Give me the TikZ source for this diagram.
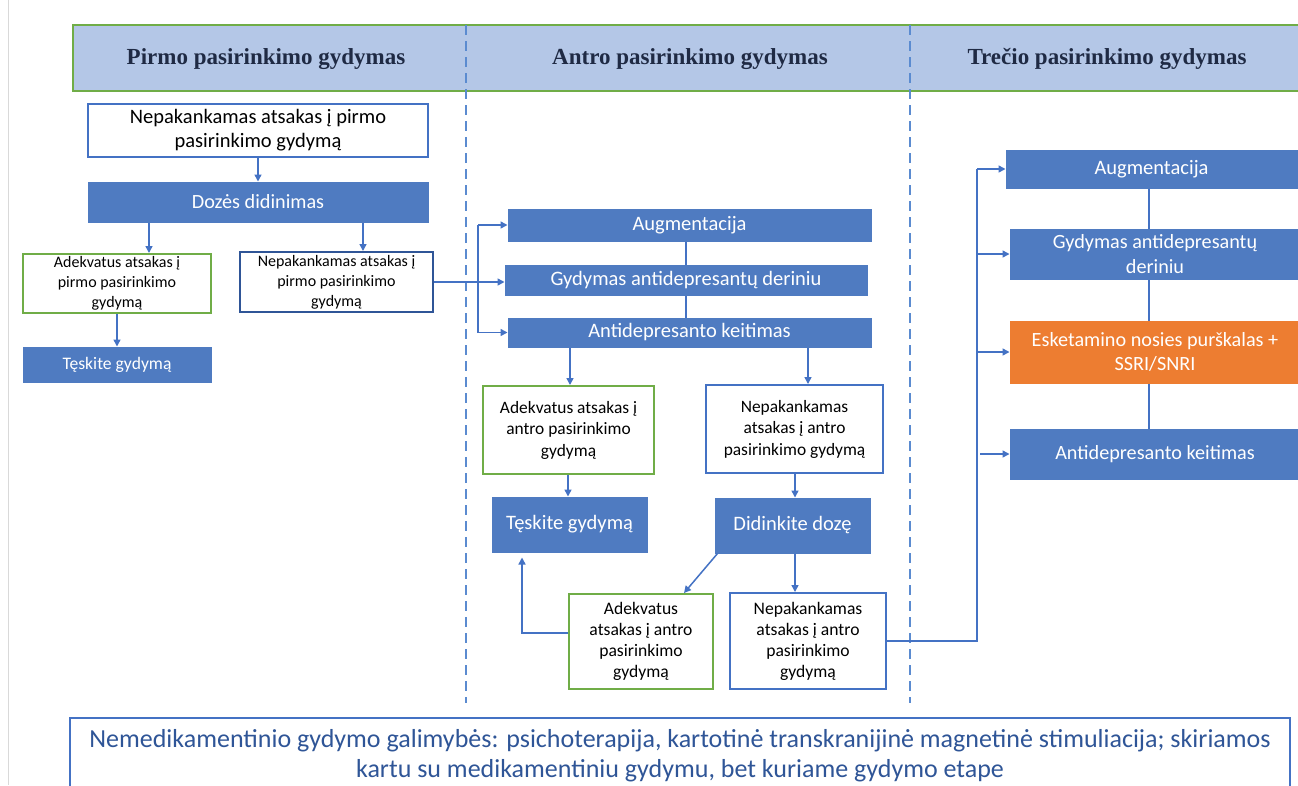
\documentclass[tikz,border=0pt]{standalone}
\usepackage{fontspec}
\setmainfont{Carlito}
\newfontfamily\hdrfont{Liberation Serif}
\usetikzlibrary{arrows.meta,calc}
\definecolor{bfill}{HTML}{4F7BC1}
\definecolor{bline}{HTML}{4472C4}
\definecolor{dline}{HTML}{2F5597}
\definecolor{gline}{HTML}{70AD47}
\definecolor{hfill}{HTML}{B4C7E7}
\definecolor{htext}{HTML}{1F2A44}
\definecolor{ofill}{HTML}{ED7D31}
\definecolor{dashcol}{HTML}{5B8BD0}
\newcommand\mybox[7]{\node[#2, minimum width={#5-#3}, minimum height={#6-#4}] (#1) at ({(#3+#5)/2},{(#4+#6)/2}) {#7};}
\begin{document}
\begin{tikzpicture}[x=1pt,y=-1pt,
  fbox/.style={fill=bfill, draw=bfill, line width=1pt, text=white, inner sep=0pt, align=center},
  obox/.style={fill=ofill, draw=ofill, line width=1pt, text=white, inner sep=0pt, align=center},
  wbox/.style={fill=white, draw=bline, line width=2pt, inner sep=0pt, align=center},
  gbox/.style={fill=white, draw=gline, line width=2pt, inner sep=0pt, align=center},
  arr/.style={draw=bline, line width=1.5pt, -{Triangle[length=7pt,width=7pt]}},
  ln/.style={draw=bline, line width=1.5pt},
  dl/.style={draw=dashcol, line width=1.8pt, dash pattern=on 10pt off 6pt},
  hdr/.style={font=\hdrfont\bfseries\fontsize{23}{27}\selectfont, text=htext},
  fa/.style={font=\fontsize{20.5}{24}\selectfont},
  fb/.style={font=\fontsize{20.2}{24.5}\selectfont},
  fc/.style={font=\fontsize{16}{20}\selectfont},
  fd/.style={font=\fontsize{17.4}{21.5}\selectfont},
  fe/.style={font=\fontsize{17.6}{21}\selectfont},
  ft/.style={font=\fontsize{17.6}{21}\selectfont},
]
\clip (0,0) rectangle (1298,785);
\useasboundingbox (0,0) rectangle (1298,785);
\fill[white] (0,0) rectangle (1298,785);
\draw[black!15, line width=1pt] (8,0) -- (8,785);

% header band
\draw[draw=gline, fill=hfill, line width=1.5pt] (73,25) rectangle (1310,91);
\node[hdr] (h1) at (266,59) {Pirmo pasirinkimo gydymas};
\node[hdr] (h2) at (690,59) {Antro pasirinkimo gydymas};
\node[hdr] (h3) at (1107,59) {Trečio pasirinkimo gydymas};
\draw[dl] (466,25) -- (466,703);
\draw[dl] (910,25) -- (910,703);

% column 1
\mybox{b1}{wbox,fa}{88}{104}{428}{157}{Nepakankamas atsakas į pirmo\\pasirinkimo gydymą}
\mybox{doz}{fbox,fb}{88}{182}{428}{222}{Dozės didinimas}
\mybox{g1}{gbox,fc}{23}{254}{211}{313}{Adekvatus atsakas į\\pirmo pasirinkimo\\gydymą}
\mybox{n1}{wbox,fc,draw=dline}{240}{252}{433}{312}{Nepakankamas atsakas į\\pirmo pasirinkimo\\gydymą}
\mybox{t1}{fbox,ft}{23}{347}{211}{382}{Tęskite gydymą}

% column 2
\mybox{aug2}{fbox,fa}{508}{209}{871}{241}{Augmentacija}
\mybox{gyd2}{fbox,fa}{505}{265}{867}{295}{Gydymas antidepresantų deriniu}
\mybox{ant2}{fbox,fa}{508}{318}{871}{347}{Antidepresanto keitimas}
\mybox{g2}{gbox,fd}{483}{386}{654}{474}{Adekvatus atsakas į\\antro pasirinkimo\\gydymą}
\mybox{n2}{wbox,fd}{706}{385}{883}{473}{Nepakankamas\\atsakas į antro\\pasirinkimo gydymą}
\mybox{t2}{fbox,fa}{492}{497}{647}{552}{Tęskite gydymą}
\mybox{d2}{fbox,fa}{715}{498}{870}{553}{Didinkite dozę}
\mybox{g3}{gbox,fe}{569}{594}{713}{689}{Adekvatus\\atsakas į antro\\pasirinkimo\\gydymą}
\mybox{n3}{wbox,fe}{730}{593}{886}{689}{Nepakankamas\\atsakas į antro\\pasirinkimo\\gydymą}

% column 3
\mybox{a3}{fbox,fa}{1006}{150}{1297}{188}{Augmentacija}
\mybox{gy3}{fbox,fb}{1010}{229}{1300}{279}{Gydymas antidepresantų\\deriniu}
\mybox{e3}{obox,fb}{1010}{321}{1300}{383}{Esketamino nosies purškalas +\\SSRI/SNRI}
\mybox{k3}{fbox,fb}{1010}{429}{1300}{479}{Antidepresanto keitimas}

% bottom note
\node[draw=bline, line width=2pt, fill=white, minimum width=1220, minimum height=76, inner sep=0pt,
      align=center, text=dline, font=\fontsize{26}{30}\selectfont] (note) at (680,756)
      {Nemedikamentinio gydymo galimybės: psichoterapija, kartotinė transkranijinė magnetinė stimuliacija; skiriamos\\kartu su medikamentiniu gydymu, bet kuriame gydymo etape};

% helper x positions
\coordinate (x149) at (149,0);
\coordinate (x363) at (363,0);
\coordinate (x478) at (478,0);
\coordinate (x686) at (686,0);
\coordinate (x570) at (570,0);
\coordinate (x808) at (808,0);
\coordinate (x568) at (568,0);
\coordinate (x795) at (795,0);
\coordinate (x522) at (522,0);
\coordinate (y633) at (0,633);
\coordinate (x977) at (977,0);
\coordinate (x980) at (980,0);
\coordinate (x1149) at (1149,0);

% connectors column 1
\draw[arr] (b1) -- (doz);
\draw[arr] (doz.south -| x149) -- (g1.north -| x149);
\draw[arr] (doz.south -| x363) -- (n1.north -| x363);
\draw[arr] (g1) -- (t1);

% connectors column 2
\draw[arr] (n1.east) -- (n1.east -| gyd2.west);
\draw[ln] (x478 |- aug2) -- (x478 |- ant2);
\draw[arr] (x478 |- aug2) -- (aug2.west);
\draw[arr] (x478 |- ant2) -- (ant2.west);
\draw[ln] (aug2.south -| x686) -- (gyd2.north -| x686);
\draw[ln] (gyd2.south -| x686) -- (ant2.north -| x686);
\draw[arr] (ant2.south -| x570) -- (g2.north -| x570);
\draw[arr] (ant2.south -| x808) -- (n2.north -| x808);
\draw[arr] (g2.south -| x568) -- (t2.north -| x568);
\draw[arr] (n2.south -| x795) -- (d2.north -| x795);
\draw[arr] ($(d2.south west)+(3,0)$) -- ($(g3.north east)+(-30,0)$);
\draw[arr] (d2.south -| x795) -- (n3.north -| x795);
\draw[arr, shorten >=5pt] (g3.west |- y633) -| (t2.south -| x522);

% connectors column 3
\draw[ln] (n3.east) -- (n3.east -| x977) -- (x977 |- a3);
\draw[arr] (x977 |- a3) -- (a3.west);
\draw[arr] (x977 |- gy3) -- (gy3.west);
\draw[arr] (x977 |- e3) -- (e3.west);
\draw[arr] (x980 |- k3) -- (k3.west);
\draw[ln] (a3.south -| x1149) -- (gy3.north -| x1149);
\draw[ln] (gy3.south -| x1149) -- (e3.north -| x1149);
\draw[ln] (e3.south -| x1149) -- (k3.north -| x1149);
\end{tikzpicture}
\end{document}
